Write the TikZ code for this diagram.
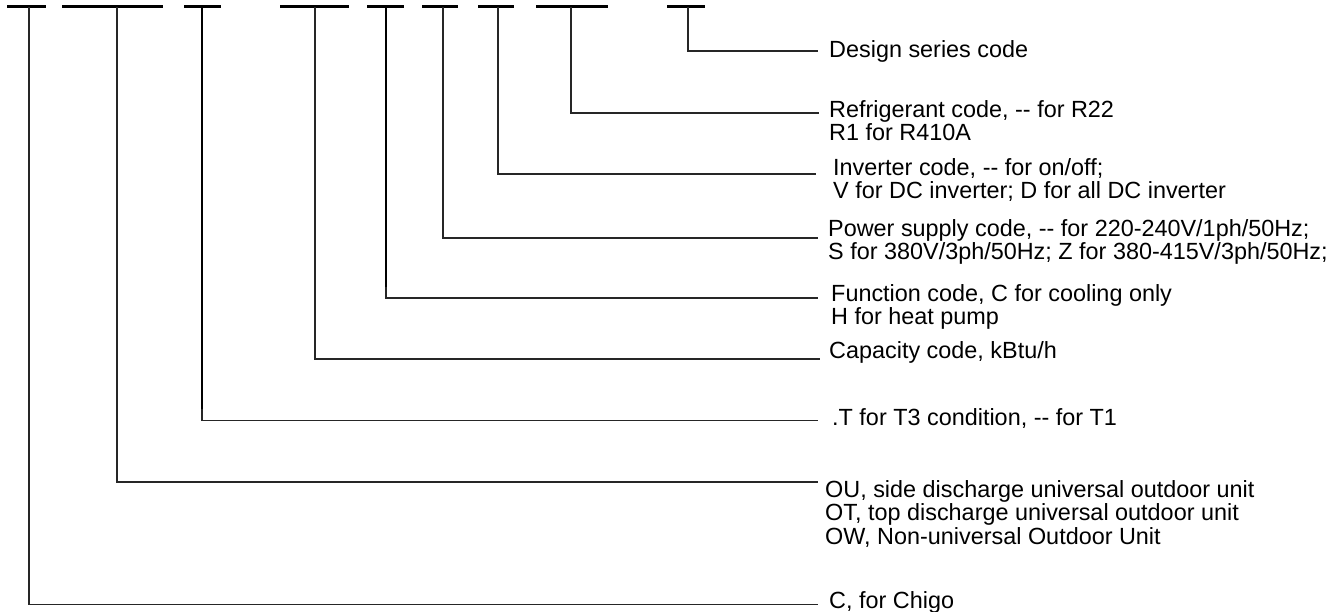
\documentclass[tikz,border=0pt]{standalone}
\usepackage{fontspec}
\setmainfont{Liberation Sans}
\begin{document}
\begin{tikzpicture}[x=1pt,y=-1pt,
  bar/.style={line width=3pt},
  lead/.style={line width=1.3pt, draw=black!85},
  thickv/.style={line width=2.6pt},
  lbl/.style={anchor=base west, inner sep=0pt, font=\fontsize{23.4}{23.5}\selectfont}]
\useasboundingbox (0,0) rectangle (1328,611);
% top code bars
\draw[bar] (7,6.5) -- (46,6.5);
\draw[bar] (62,6.5) -- (163,6.5);
\draw[bar] (184,6.5) -- (221,6.5);
\draw[bar] (280,6.5) -- (349,6.5);
\draw[bar] (367,6.5) -- (404,6.5);
\draw[bar] (422,6.5) -- (458,6.5);
\draw[bar] (478,6.5) -- (514,6.5);
\draw[bar] (536,6.5) -- (608,6.5);
\draw[bar] (667,6.5) -- (705,6.5);
% bar anchor points
\coordinate (b1) at (29,6.5);
\coordinate (b2) at (117,6.5);
\coordinate (b3) at (202,6.5);
\coordinate (b4) at (315,6.5);
\coordinate (b5) at (386,6.5);
\coordinate (b6) at (443,6.5);
\coordinate (b7) at (498,6.5);
\coordinate (b8) at (571,6.5);
\coordinate (b9) at (688,6.5);
% line ends
\coordinate (e1) at (818,604.5);
\coordinate (e2) at (818,482);
\coordinate (e3) at (818,420.5);
\coordinate (e4) at (820,359);
\coordinate (e5) at (818,298);
\coordinate (e6) at (818,238);
\coordinate (e7) at (816,174);
\coordinate (e8) at (819,113);
\coordinate (e9) at (818,51);
% labels
\node[lbl] (t9) at (829,57) {Design series code};
\node[lbl] (t8) at (829,117) {\vtop{\hbox{Refrigerant code, -{}- for R22}\hbox{R1 for R410A}}};
\node[lbl] (t7) at (833,175) {\vtop{\hbox{Inverter code, -{}- for on/off;}\hbox{V for DC inverter; D for all DC inverter}}};
\node[lbl] (t6) at (828,236) {\vtop{\hbox{Power supply code, -{}- for 220-240V/1ph/50Hz;}\hbox{S for 380V/3ph/50Hz; Z for 380-415V/3ph/50Hz;}}};
\node[lbl] (t5) at (831,301) {\vtop{\hbox{Function code, C for cooling only}\hbox{H for heat pump}}};
\node[lbl] (t4) at (829,358) {Capacity code, kBtu/h};
\node[lbl] (t3) at (832,425) {.T for T3 condition, -{}- for T1};
\node[lbl] (t2) at (825,497) {\vtop{\hbox{OU, side discharge universal outdoor unit}\hbox{OT, top discharge universal outdoor unit}\hbox{OW, Non-universal Outdoor Unit}}};
\node[lbl] (t1) at (829,608) {C, for Chigo};
% leaders
\foreach \i in {1,...,9} {\draw[lead] (b\i) |- (e\i);}
\draw[thickv] (b3) -- (202,409);
\draw[thickv] (b5) -- (386,287);
\end{tikzpicture}
\end{document}
